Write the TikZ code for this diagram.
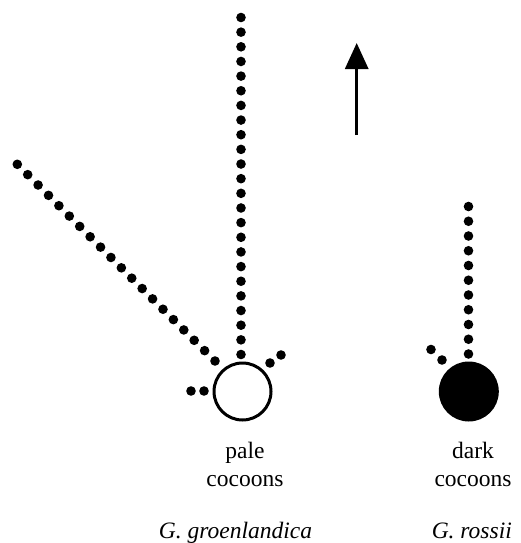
\documentclass[tikz,border=0pt]{standalone}
\usepackage{fontspec}
\setmainfont{Liberation Serif}
\usetikzlibrary{arrows.meta}
\tikzset{
  bead/.style={fill=black, draw=none},
  cocoon/.style={circle, draw=black, line width=3pt, minimum size=57pt, inner sep=0pt},
  label/.style={font=\fontsize{23.5}{28}\selectfont, anchor=base, inner sep=0pt},
  species/.style={font=\fontsize{23.5}{28}\selectfont\itshape, anchor=base, inner sep=0pt},
  north/.style={line width=3pt, -{Triangle[length=26pt,width=23pt]}}
}
\newcommand{\beadrow}[5]{% x1 y1 x2 y2 count
  \foreach \k in {0,...,\numexpr#5-1\relax}{
    \fill[bead] ({#1+(#3-#1)*\k/(#5-1)},{#2+(#4-#2)*\k/(#5-1)}) circle (4.8pt);
  }}
\begin{document}
\begin{tikzpicture}[x=1pt,y=-1pt]
  \useasboundingbox (0,0) rectangle (521,543);

  % cocoons
  \node[cocoon, fill=white] (pale) at (242.5,391.5) {};
  \node[cocoon, fill=black] (dark) at (468.8,391.5) {};

  % G. groenlandica tracks
  \beadrow{241}{17.5}{241}{354.5}{24}
  \beadrow{17.3}{164.3}{215}{361}{20}
  \beadrow{270}{363}{281}{355}{2}
  \beadrow{191}{391}{204}{391}{2}

  % G. rossii tracks
  \beadrow{468.5}{206.5}{468.5}{354}{11}
  \beadrow{431}{349.5}{442}{360}{2}

  % direction arrow
  \coordinate (arrowfoot) at (356.7,135);
  \coordinate (arrowtip) at (356.7,43);
  \draw[north] (arrowfoot) -- (arrowtip);

  % labels
  \node[label] (paleA) at (245,458) {pale};
  \node[label] (paleB) at (245,486) {cocoons};
  \node[label] (darkA) at (473,458) {dark};
  \node[label] (darkB) at (473,486) {cocoons};
  \node[species] (groen) at (235.5,538) {G. groenlandica};
  \node[species] (rossii) at (471.8,538) {G. rossii};
\end{tikzpicture}
\end{document}
